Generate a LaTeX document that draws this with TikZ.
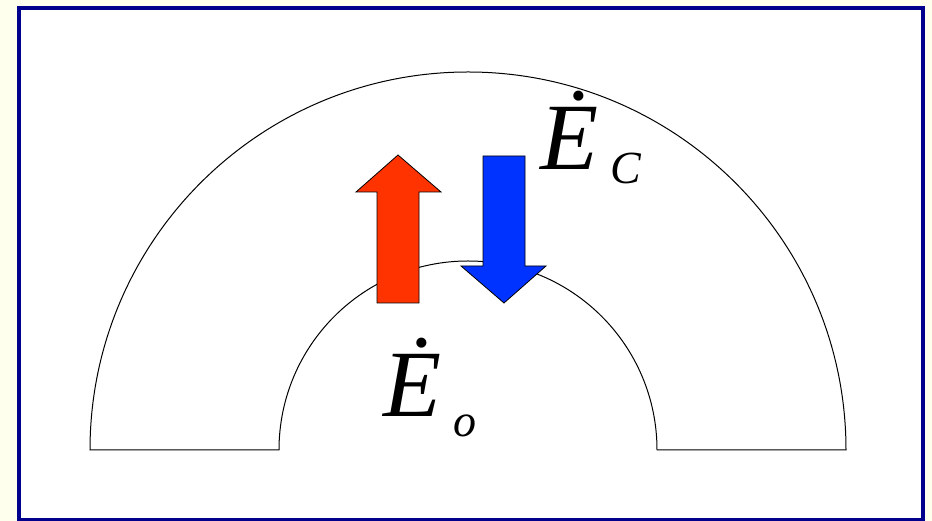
\documentclass[tikz,border=0pt]{standalone}
\usepackage{fontspec}
\setmainfont{Liberation Serif}
\definecolor{cream}{RGB}{255,255,238}
\definecolor{frameblue}{RGB}{0,0,140}
\definecolor{arrowred}{RGB}{255,51,0}
\definecolor{arrowblue}{RGB}{0,51,255}
\begin{document}
\begin{tikzpicture}[x=1pt,y=1pt,
  bigarrow/.style={draw=black,line width=0.8pt,line join=miter},
  lbl/.style={anchor=base west,inner sep=0pt,font=\fontsize{95}{95}\selectfont\itshape},
  sub/.style={anchor=base west,inner sep=0pt,font=\fontsize{46}{46}\selectfont\itshape}]
\useasboundingbox (0,0) rectangle (932,521);
\fill[cream] (0,0) rectangle (932,521);
\filldraw[fill=white,draw=frameblue,line width=4pt] (19,1) rectangle (923,513);
% half annulus
\draw[line width=1pt] (90,71) arc[start angle=180,end angle=0,radius=378]
  -- (657,71) arc[start angle=0,end angle=180,radius=189] -- cycle;
% red arrow up
\filldraw[bigarrow,fill=arrowred] (377,218) -- (377,329) -- (356,329) -- (398,366)
  -- (441,329) -- (419,329) -- (419,218) -- cycle;
% blue arrow down
\filldraw[bigarrow,fill=arrowblue] (483,365) -- (483,255) -- (461,255) -- (504,218)
  -- (546,255) -- (525,255) -- (525,365) -- cycle;
% labels
\node[lbl] (ec) at (540,351) {\.{E}};
\node[sub] (ecs) at (610,337) {C};
\node[lbl] (eo) at (383,104) {\.{E}};
\node[sub] (eos) at (453,84) {o};
\end{tikzpicture}
\end{document}
